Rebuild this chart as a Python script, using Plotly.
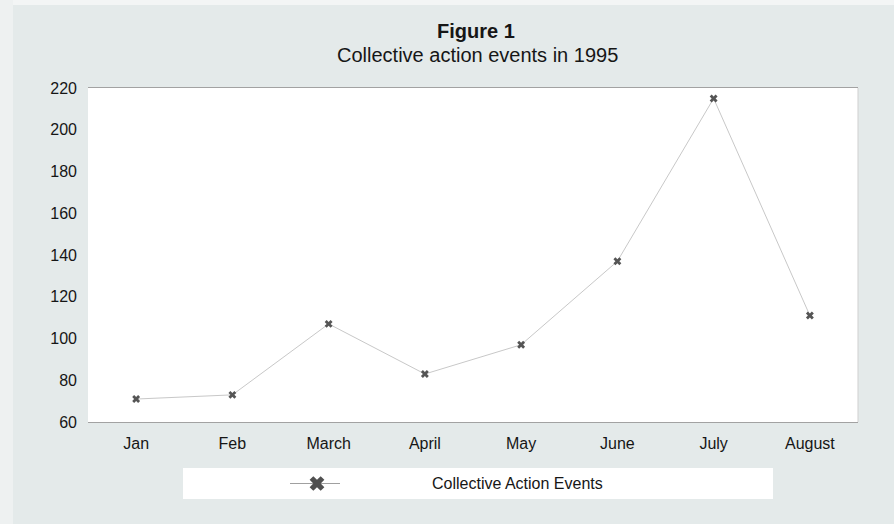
import plotly.graph_objects as go

months = ["Jan", "Feb", "March", "April", "May", "June", "July", "August"]
events = [71, 73, 107, 83, 97, 137, 215, 111]
y_ticks = [60, 80, 100, 120, 140, 160, 180, 200, 220]
series_name = "Collective Action Events"
title_main = "Figure 1"
title_sub = "Collective action events in 1995"

W, H = 894, 524
ML, MR, MT, MB = 88, 36, 88, 20
plot_bottom_px = 422
paper_h = H - MT - MB
paper_w = W - ML - MR


def py(px):
    return (H - MB - px) / paper_h


def pxx(px):
    return (px - ML) / paper_w


FONT = "Liberation Sans, Arial, sans-serif"
BG = "#e4eaea"
TXT = "#161616"

fig = go.Figure()
fig.add_trace(go.Scatter(
    x=months, y=events, mode="lines+markers", name=series_name,
    line=dict(color="#c8c8c8", width=1),
    marker=dict(symbol="x", size=7, color="#555555", line=dict(width=0)),
    showlegend=False, xaxis="x", yaxis="y",
))

# legend key (drawn in its own hidden axis below the plot)
fig.add_trace(go.Scatter(
    x=[290, 340], y=[0.5, 0.5], mode="lines", line=dict(color="#a0a0a0", width=1),
    showlegend=False, xaxis="x2", yaxis="y2", hoverinfo="skip",
))
fig.add_trace(go.Scatter(
    x=[317], y=[0.5], mode="markers",
    marker=dict(symbol="x", size=13, color="#505050", line=dict(width=0)),
    showlegend=False, xaxis="x2", yaxis="y2", hoverinfo="skip",
))

fig.update_layout(
    width=W, height=H,
    margin=dict(l=ML, r=MR, t=MT, b=MB),
    paper_bgcolor=BG, plot_bgcolor=BG,
    font=dict(family=FONT, size=16, color=TXT),
    xaxis=dict(
        domain=[0, 1], anchor="y", range=[-0.5, 7.5],
        showgrid=False, zeroline=False,
        showline=True, linecolor="#a2a2a2", linewidth=1, mirror=True,
        ticks="", ticklabelstandoff=7,
        tickfont=dict(family=FONT, size=16, color=TXT),
    ),
    yaxis=dict(
        domain=[py(plot_bottom_px), 1], anchor="x", range=[60, 220],
        tickvals=y_ticks, showgrid=False, zeroline=False,
        showline=False, ticks="", ticklabelstandoff=10,
        tickfont=dict(family=FONT, size=16, color=TXT),
    ),
    xaxis2=dict(domain=[0, 1], anchor="y2", range=[ML, W - MR], visible=False, fixedrange=True),
    yaxis2=dict(domain=[py(499), py(468)], anchor="x2", range=[0, 1], visible=False, fixedrange=True),
    shapes=[
        # light scan edges of the page
        dict(type="rect", xref="paper", yref="paper",
             x0=pxx(0), x1=pxx(W), y0=py(5), y1=py(0),
             fillcolor="#f3f5f5", line=dict(width=0), layer="below"),
        dict(type="rect", xref="paper", yref="paper",
             x0=pxx(0), x1=pxx(13), y0=py(H), y1=py(0),
             fillcolor="#eef1f1", line=dict(width=0), layer="below"),
        # white plotting area
        dict(type="rect", xref="x domain", yref="y domain",
             x0=0, x1=1, y0=0, y1=1,
             fillcolor="white", line=dict(width=0), layer="below"),
        # faint right border of plotting area
        dict(type="line", xref="x domain", yref="y domain",
             x0=1, x1=1, y0=0, y1=1,
             line=dict(color="#cfcfcf", width=1), layer="below"),
        # white legend box
        dict(type="rect", xref="paper", yref="paper",
             x0=pxx(183), x1=pxx(773), y0=py(499), y1=py(468),
             fillcolor="white", line=dict(width=0), layer="below"),
    ],
    annotations=[
        dict(text="<b>" + title_main + "</b>", xref="paper", yref="paper",
             x=pxx(476), y=py(31), xanchor="center", yanchor="middle", showarrow=False,
             font=dict(family=FONT, size=20, color=TXT)),
        dict(text=title_sub, xref="paper", yref="paper",
             x=pxx(477), y=py(55), xanchor="center", yanchor="middle", showarrow=False,
             font=dict(family=FONT, size=20, color=TXT)),
        dict(text=series_name, xref="paper", yref="paper",
             x=pxx(430), y=py(483), xanchor="left", yanchor="middle", showarrow=False,
             font=dict(family=FONT, size=16, color=TXT)),
    ],
)

fig.write_html("out.html")
